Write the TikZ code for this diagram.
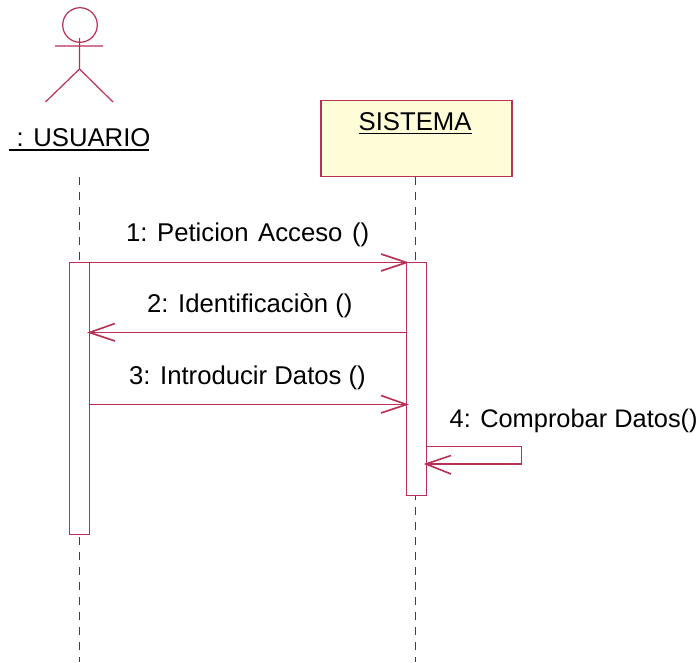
\documentclass[tikz,border=0pt]{standalone}
\usepackage{fontspec}
\setmainfont{Liberation Sans}
\definecolor{umlred}{RGB}{184,48,84}
\definecolor{noteyellow}{RGB}{255,252,216}
\tikzset{
  lbl/.style={inner sep=0pt,anchor=base west,font=\fontsize{25.7}{29}\selectfont,text=black},
  uml/.style={draw=umlred,line width=1.2pt},
  life/.style={draw=black!75,line width=1pt,dash pattern=on 8pt off 7pt},
  activation/.style={uml,fill=white},
  msg/.style={draw=umlred,line width=1.2pt},
  openhead/.style={draw=umlred,line width=1.6pt},
  ul/.style={draw=black,line width=1.7pt}
}
\begin{document}
\begin{tikzpicture}[x=1pt,y=-1pt]
\useasboundingbox (0,0) rectangle (699,662);
\fill[white] (0,0) rectangle (699,662);
% actor
\draw[uml] (80,25) circle (17.3);
\draw[uml] (79.5,38) -- (79.5,69) (55,46) -- (103,46) (45.5,102) -- (79.5,69) -- (113,102);
\node[lbl] (usuario) at (16.5,146) { : USUARIO};
\coordinate (ua) at (9,150);
\coordinate (ub) at (149,150);
\draw[ul] (ua) -- (ub);
% object
\node[uml,fill=noteyellow,minimum width=191pt,minimum height=76pt,inner sep=0pt,anchor=north west] (sis) at (320.4,100.2) {};
\node[lbl] (sistema) at (358.5,130) {SISTEMA};
\coordinate (sa) at (358.5,133.5);
\coordinate (sb) at (471.5,133.5);
\draw[ul] (sa) -- (sb);
% lifelines
\coordinate (u0) at (79.5,177);
\coordinate (u1) at (79.5,662);
\coordinate (s1) at (415.5,662);
\draw[life] (u0) -- (u1);
\draw[life] (sis.south -| 415.5,0) -- (s1);
% activations
\node[activation,minimum width=20pt,minimum height=272pt,inner sep=0pt,anchor=north west] (au) at (69,262) {};
\node[activation,minimum width=20pt,minimum height=233pt,inner sep=0pt,anchor=north west] (as) at (406,262) {};
% messages
\coordinate (m1a) at (89,262.5);
\coordinate (m1b) at (406.5,262.5);
\coordinate (m2a) at (406.5,332.5);
\coordinate (m2b) at (89.5,332.5);
\coordinate (m3a) at (89,404.5);
\coordinate (m3b) at (406.5,404.5);
\coordinate (m4a) at (426,446.5);
\coordinate (m4c) at (521.5,446.5);
\coordinate (m4d) at (521.5,464);
\coordinate (m4b) at (426,464);
\draw[msg] (m1a) -- (m1b);
\draw[openhead] (381,254) -- (m1b) -- (381,271);
\draw[msg] (m2a) -- (m2b);
\draw[openhead] (115,323.5) -- (m2b) -- (115,341);
\draw[msg] (m3a) -- (m3b);
\draw[openhead] (381,395.5) -- (m3b) -- (381,413);
\draw[msg] (m4a) -- (m4c) -- (m4d) -- (m4b);
\draw[openhead] (451,455.5) -- (m4b) -- (451,474);
% labels
\node[lbl] (l1) at (126,241) {1: Peticion\hspace{2.5pt} Acceso\hspace{2.5pt} ()};
\node[lbl] (l2) at (147,312) {2: Identificaciòn ()};
\node[lbl] (l3) at (129,384) {3: Introducir Datos ()};
\node[lbl,font=\fontsize{25.4}{29}\selectfont] (l4) at (449.5,427) {4: Comprobar Datos()};
\end{tikzpicture}
\end{document}
